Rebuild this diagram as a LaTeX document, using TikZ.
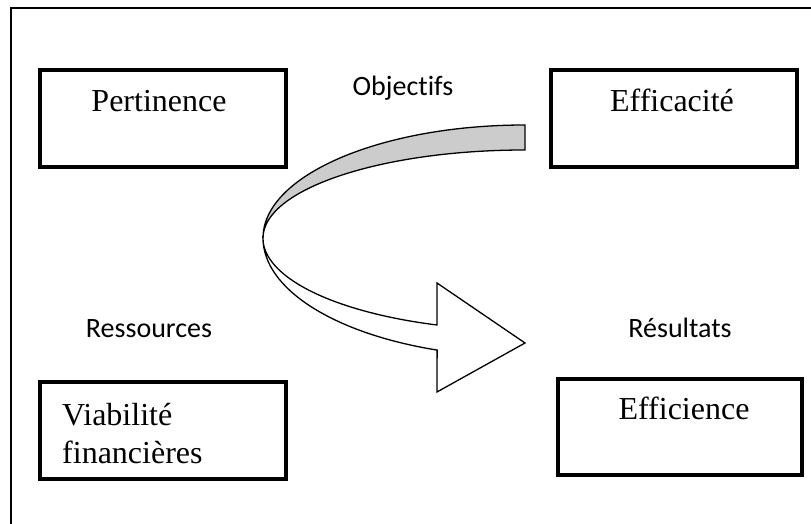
\documentclass[tikz,border=0pt]{standalone}
\usepackage{fontspec}
\setmainfont{Liberation Serif}
\newfontfamily\sanslab[Ligatures=NoCommon]{Carlito}
\usetikzlibrary{positioning}
\definecolor{ribbongray}{RGB}{204,204,204}
\tikzset{
  box/.style={draw,line width=3.5pt,minimum width=246pt,minimum height=97pt,inner sep=0pt},
  boxtext/.style={font=\fontsize{32}{38}\selectfont,inner sep=0pt},
  sidelabel/.style={font=\sanslab\fontsize{28}{32}\selectfont,inner sep=0pt},
  ribbon/.style={draw,line width=1.3pt,line join=miter}
}

\begin{document}
\begin{tikzpicture}[x=1pt,y=1pt]
    \useasboundingbox (0,0) rectangle (811,524);
    \clip (0,0) rectangle (811,524);
    % outer frame
    \draw[line width=2.8pt] (11,-20) -- (11,516) -- (830,516);
    % boxes
    \node[box] (pert) at (163,405.5) {};
    \node[box] (effica) at (674,405.5) {};
    \node[box] (viab) at (163,93.5) {};
    \node[box,minimum width=244pt,minimum height=96pt] (effici) at (680,97) {};
    \node[boxtext,anchor=base] (pertT) at (159,412) {Pertinence};
    \node[boxtext,anchor=base] (efficaT) at (672,412) {Efficacité};
    \node[boxtext,anchor=north west,align=left] (viabT) at (62,121) {Viabilité\\financières};
    \node[boxtext,anchor=base] (efficiT) at (684,104) {Efficience};
    % labels
    \node[sidelabel,anchor=base] (obj) at (403,428) {Objectifs};
    \node[sidelabel,anchor=base] (ress) at (149,186) {Ressources};
    \node[sidelabel,anchor=base] (res) at (680,186) {Résultats};
    % curved arrow
    \coordinate (top) at (525,399);
    \coordinate (bend) at (263,286);
    \draw[ribbon,fill=ribbongray] (top)
        arc[start angle=90,end angle=180,x radius=262,y radius=113]
        arc[start angle=180,end angle=90,x radius=262,y radius=88] -- cycle;
    \draw[ribbon,fill=white] (bend)
        arc[start angle=180,end angle=250.4,x radius=262,y radius=119]
        -- (437,132) -- (525,181) -- (437,241) -- (437,199)
        arc[start angle=250.4,end angle=180,x radius=262,y radius=92.5] -- cycle;
\end{tikzpicture}
\end{document}
